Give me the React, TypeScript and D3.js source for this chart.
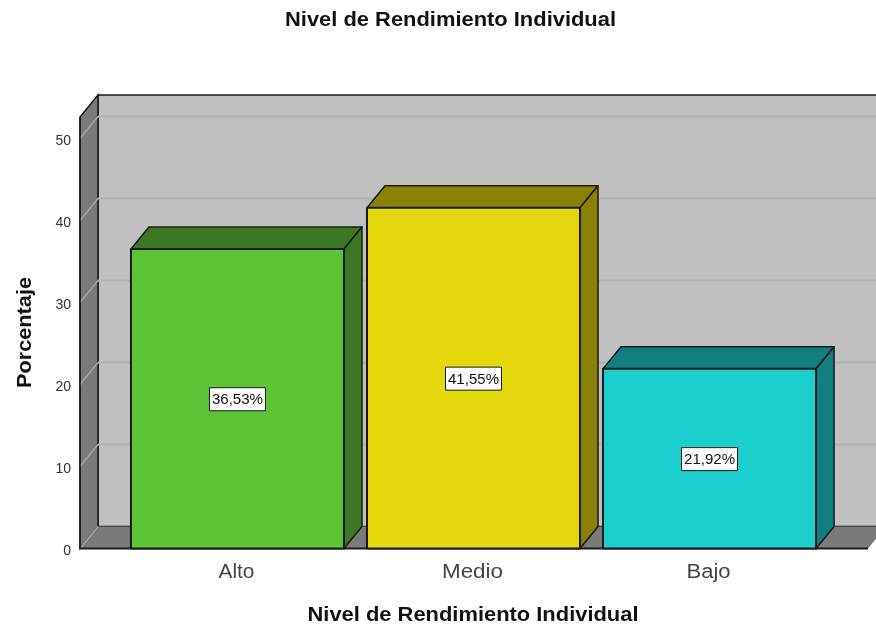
import React from "react";
import * as d3 from "d3";

const categories = ["Alto", "Medio", "Bajo"];
const values = [36.53, 41.55, 21.92];
const valueLabels = ["36,53%", "41,55%", "21,92%"];
const frontColors = ["#5cc437", "#e4d90f", "#1ccfcf"];
const sideColors = ["#3c7823", "#8a8207", "#127e7e"];
const yTicks = [0, 10, 20, 30, 40, 50];
const categoryWidths = [36, 61, 44];
const title = "Nivel de Rendimiento Individual";
const xTitle = "Nivel de Rendimiento Individual";
const yTitle = "Porcentaje";

const W = 876, H = 628;
const DX = 18, DY = -22;
const y = d3.scaleLinear().domain([0, 50]).range([548.5, 138.5]);
const x = d3.scaleBand<string>().domain(categories).range([79.5, 867.5]).paddingInner(0.0975).paddingOuter(0.218);
const topY = 117;
const font = "'Liberation Sans', Arial, sans-serif";
const INK = "#1a1a1a";

const poly = (pts: [number, number][]) => pts.map(p => p.join(",")).join(" ");

export default function App() {
  const y0 = y(0);
  const left = 80, right = 868;
  return (
    <svg width={W} height={H} viewBox={`0 0 ${W} ${H}`} style={{ position: "absolute", left: 0, top: 0, background: "#fff", filter: "blur(0.35px)" }} fontFamily={font}>
      <rect x={left + DX} y={topY + DY} width={W} height={y0 - topY} fill="#c0c0c0" stroke={INK} strokeWidth={1.5} />
      <polygon points={poly([[left, topY], [left + DX, topY + DY], [left + DX, y0 + DY], [left, y0]])} fill="#7a7a7a" stroke={INK} strokeWidth={1.5} />
      <polygon points={poly([[left, y0], [left + DX, y0 + DY], [right + DX, y0 + DY], [right, y0]])} fill="#7a7a7a" />
      {yTicks.map(t => (
        <g key={t}>
          <line x1={left} y1={y(t)} x2={left + DX} y2={y(t) + DY} stroke="#a8a8a8" strokeWidth={1.3} />
          {t > 0 && <line x1={left + DX} y1={y(t) + DY} x2={W} y2={y(t) + DY} stroke="#b2b2b2" strokeWidth={2} />}
          <text x={71} y={y(t) + 6} textAnchor="end" fontSize={14} fill="#333">{t}</text>
        </g>
      ))}
      <line x1={left} y1={y0} x2={right} y2={y0} stroke={INK} strokeWidth={2} />
      <line x1={left} y1={topY} x2={left} y2={y0} stroke={INK} strokeWidth={1.5} />
      {categories.map((c, i) => {
        const bx = x(c)!, bw = x.bandwidth(), by = y(values[i]);
        return (
          <g key={c} stroke={INK} strokeWidth={1.5} strokeLinejoin="round">
            <polygon points={poly([[bx, by], [bx + DX, by + DY], [bx + bw + DX, by + DY], [bx + bw, by]])} fill={sideColors[i]} />
            <polygon points={poly([[bx + bw, by], [bx + bw + DX, by + DY], [bx + bw + DX, y0 + DY], [bx + bw, y0]])} fill={sideColors[i]} />
            <rect x={bx} y={by} width={bw} height={y0 - by} fill={frontColors[i]} strokeWidth={2} />
            <rect x={bx + bw / 2 - 28} y={(by + y0) / 2 - 11} width={56} height={23} fill="#fff" strokeWidth={1} />
            <text x={bx + bw / 2} y={(by + y0) / 2 + 5.5} textAnchor="middle" fontSize={14} textLength={51} lengthAdjust="spacingAndGlyphs" fill="#111" stroke="none">{valueLabels[i]}</text>
            <text x={bx + bw / 2 - 1} y={578} textAnchor="middle" fontSize={20} textLength={categoryWidths[i]} lengthAdjust="spacingAndGlyphs" fill="#444" stroke="none">{c}</text>
          </g>
        );
      })}
      <text x={450.5} y={26} textAnchor="middle" fontSize={20} fontWeight="bold" textLength={331} lengthAdjust="spacingAndGlyphs" fill="#111">{title}</text>
      <text x={473} y={621} textAnchor="middle" fontSize={20} fontWeight="bold" textLength={331} lengthAdjust="spacingAndGlyphs" fill="#111">{xTitle}</text>
      <text transform="translate(31,332.5) rotate(-90)" textAnchor="middle" fontSize={20} fontWeight="bold" textLength={111} lengthAdjust="spacingAndGlyphs" fill="#111">{yTitle}</text>
    </svg>
  );
}
